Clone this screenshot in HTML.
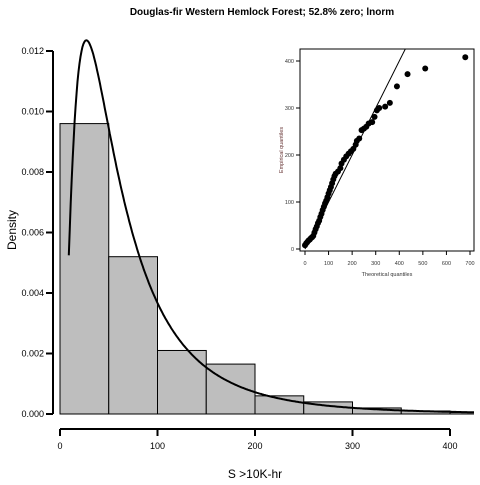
<!DOCTYPE html>
<html><head><meta charset="utf-8"><style>
body{margin:0;background:#fff;}
svg text{font-family:"Liberation Sans",sans-serif;}
</style></head><body>
<svg width="480" height="480" viewBox="0 0 480 480" xmlns="http://www.w3.org/2000/svg">
<rect width="480" height="480" fill="#fff"/>
<text x="262" y="15" text-anchor="middle" font-size="10" font-weight="bold">Douglas-fir Western Hemlock Forest; 52.8% zero; lnorm</text>
<g id="main"></g>
<g id="inset"></g>
<text x="255" y="478" text-anchor="middle" font-size="12">S &gt;10K-hr</text>
<text transform="translate(16,230) rotate(-90)" text-anchor="middle" font-size="12">Density</text>
</svg>
<script>
const binStarts=[0,50,100,150,200,250,300,350,400];
const binDensity=[0.0096,0.0052,0.0021,0.00165,0.0006,0.0004,0.0002,0.0001,0.00005];
const yTicks=[0,0.002,0.004,0.006,0.008,0.010,0.012];
const yTickLabels=["0.000","0.002","0.004","0.006","0.008","0.010","0.012"];
const xTicks=[0,100,200,300,400];
const meanlog=4.002, sdlog=0.84;
const qqTheo=[0,5,10,15,20,25,30,35,40,45,50,55,60,65,70,75,80,85,90,95,100,105,110,115,120,125,130,140,150,155,165,175,185,195,205,215,220,230,240,250,260,270,285,295,305,315,340,360,390,435,510,680];
const qqEmp=[8,12,15,18,20,23,25,28,35,42,48,55,60,68,75,83,90,97,103,110,118,125,132,140,148,155,160,165,172,182,190,197,203,208,213,222,230,235,253,256,260,267,270,281,295,300,303,311,346,372,384,408];
const qqXTicks=[0,100,200,300,400,500,600,700];
const qqYTicks=[0,100,200,300,400];
const NS="http://www.w3.org/2000/svg";
function mk(t,a,p){const e=document.createElementNS(NS,t);for(const k in a)e.setAttribute(k,a[k]);p.appendChild(e);return e;}
const X=v=>60+v*0.975, Y=v=>414-v*30250;
const main=document.getElementById('main');
const cp=mk('clipPath',{id:'cp'},main);mk('rect',{x:0,y:0,width:474,height:480},cp);
const plot=mk('g',{'clip-path':'url(#cp)'},main);
binStarts.forEach((b,i)=>{const r=mk('rect',{x:X(b),y:Y(binDensity[i]),width:X(b+50)-X(b),height:Y(0)-Y(binDensity[i]),fill:'#bebebe',stroke:'#000','stroke-width':1},plot);

});
let d='';for(let x=9;x<=440;x+=1){const f=Math.exp(-Math.pow(Math.log(x)-meanlog,2)/(2*sdlog*sdlog))/(x*sdlog*Math.sqrt(2*Math.PI));d+=(x==9?'M':'L')+X(x).toFixed(1)+','+Y(f).toFixed(1);}
const c=mk('path',{d:d,fill:'none',stroke:'#000','stroke-width':2},plot);


const ya=mk('g',{},main);
mk('line',{x1:53,x2:53,y1:Y(0),y2:Y(0.012),stroke:'#000','stroke-width':2},ya);
yTicks.forEach((t,i)=>{mk('line',{x1:46,x2:53,y1:Y(t),y2:Y(t),stroke:'#000','stroke-width':2},ya);const tx=mk('text',{x:44,y:Y(t)+3,'text-anchor':'end','font-size':9},ya);tx.textContent=yTickLabels[i];});
const xa=mk('g',{},main);
mk('line',{x1:X(0),x2:X(400),y1:429,y2:429,stroke:'#000','stroke-width':2},xa);
xTicks.forEach(t=>{mk('line',{x1:X(t),x2:X(t),y1:429,y2:436,stroke:'#000','stroke-width':2},xa);const tx=mk('text',{x:X(t),y:449,'text-anchor':'middle','font-size':9},xa);tx.textContent=t;});
// inset
const ins=document.getElementById('inset');
const QX=v=>305+v*(165/700), QY=v=>249-v*0.47;
mk('rect',{x:300,y:49,width:174,height:202,fill:'#fff',stroke:'#000','stroke-width':1},ins);
const icp=mk('clipPath',{id:'icp'},ins);mk('rect',{x:300,y:49,width:174,height:202},icp);
const ig=mk('g',{'clip-path':'url(#icp)'},ins);
const ql=mk('line',{x1:QX(0),y1:QY(0),x2:QX(440),y2:QY(440),stroke:'#000','stroke-width':1},ig);

qqTheo.forEach((t,i)=>{const p=mk('circle',{cx:QX(t),cy:QY(qqEmp[i]),r:3,fill:'#000'},ig);});
qqXTicks.forEach(t=>{mk('line',{x1:QX(t),x2:QX(t),y1:251,y2:255,stroke:'#000'},ins);const tx=mk('text',{x:QX(t),y:265,'text-anchor':'middle','font-size':5.5,fill:'#333'},ins);tx.textContent=t;});
qqYTicks.forEach(t=>{mk('line',{x1:296,x2:300,y1:QY(t),y2:QY(t),stroke:'#000'},ins);const tx=mk('text',{x:294,y:QY(t)+2,'text-anchor':'end','font-size':5.5,fill:'#333'},ins);tx.textContent=t;});
const qxl=mk('text',{x:387,y:276,'text-anchor':'middle','font-size':5.5,fill:'#333'},ins);qxl.textContent='Theoretical quantiles';

const qyl=mk('text',{transform:'translate(283,150) rotate(-90)','text-anchor':'middle','font-size':5.5,fill:'#633'},ins);qyl.textContent='Empirical quantiles';

</script>
</body></html>
